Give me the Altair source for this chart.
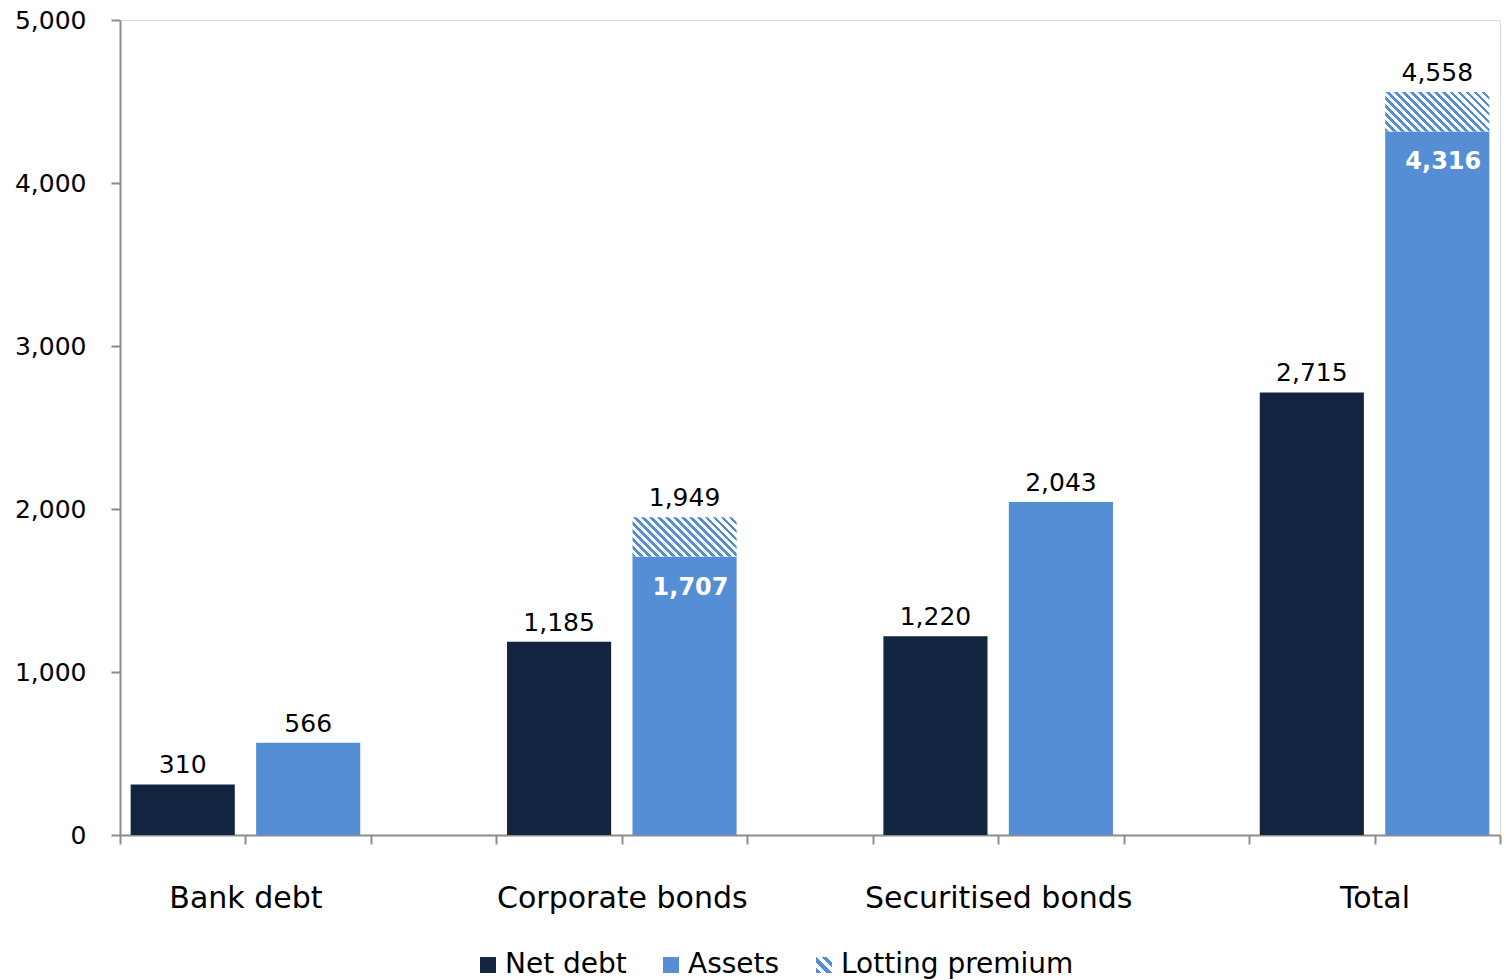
import altair as alt
import pandas as pd

# ---- data ----
categories = ["Bank debt", "Corporate bonds", "Securitised  bonds", "Total"]
net_debt = [310, 1185, 1220, 2715]
assets = [566, 1707, 2043, 4316]
lotting_premium = [0, 242, 0, 242]
series_names = ["Net debt", "Assets", "Lotting premium"]
y_ticks = [0, 1000, 2000, 3000, 4000, 5000]

NAVY = "#12243f"
BLUE = "#558ed5"
WHITE = "#ffffff"
AXIS_GREY = "#8c8c8c"
FONT = "DejaVu Sans"

PLOT_W, PLOT_H = 1380, 815
N_SLOTS = 11
PAD = 0.085  # gap inside each slot

# ---- tables built from the arrays ----
bars, hatch, above, inside = [], [], [], []
for i, cat in enumerate(categories):
    s_net, s_ast = 3 * i, 3 * i + 1
    bars.append(dict(series="Net debt", x0=s_net + PAD, x1=s_net + 1 - PAD, y0=0, y1=net_debt[i]))
    bars.append(dict(series="Assets", x0=s_ast + PAD, x1=s_ast + 1 - PAD, y0=0, y1=assets[i]))
    above.append(dict(xc=s_net + 0.5, y=net_debt[i], label=f"{net_debt[i]:,}"))
    if lotting_premium[i] > 0:
        top = assets[i] + lotting_premium[i]
        hatch.append(dict(x0=s_ast + PAD, x1=s_ast + 1 - PAD, y0=assets[i], y1=top))
        above.append(dict(xc=s_ast + 0.5, y=top, label=f"{top:,}"))
        inside.append(dict(xc=s_ast + 0.5, y=assets[i], label=f"{assets[i]:,}"))
    else:
        above.append(dict(xc=s_ast + 0.5, y=assets[i], label=f"{assets[i]:,}"))

bars_df = pd.DataFrame(bars)
hatch_df = pd.DataFrame(hatch)
above_df = pd.DataFrame(above)
inside_df = pd.DataFrame(inside)

# ---- diagonal hatch as a hard-stop linear gradient (45 degree stripes) ----
W = PLOT_W / N_SLOTS * (1 - 2 * PAD)
H = PLOT_H / 5000 * 242
s = (W + H) / (W * W + H * H)
n_stripes = 18
stops = []
for k in range(n_stripes):
    a, m, b = k / n_stripes, (k + 0.45) / n_stripes, (k + 1) / n_stripes
    stops += [
        {"offset": a, "color": BLUE},
        {"offset": m, "color": BLUE},
        {"offset": m, "color": WHITE},
        {"offset": b, "color": WHITE},
    ]
hatch_gradient = alt.LinearGradient(
    gradient="linear", x1=0, y1=1, x2=s * W, y2=1 - s * H, stops=stops
)

# small swatch gradient for the legend
sw_stops = []
n_sw = 3
for k in range(n_sw):
    a, m, b = k / n_sw, (k + 0.5) / n_sw, (k + 1) / n_sw
    sw_stops += [f"{{offset:{a},color:'{BLUE}'}}", f"{{offset:{m},color:'{BLUE}'}}",
                 f"{{offset:{m},color:'{WHITE}'}}", f"{{offset:{b},color:'{WHITE}'}}"]
sw_expr = "{gradient:'linear',x1:0,y1:1,x2:1,y2:0,stops:[" + ",".join(sw_stops) + "]}"

label_expr = " : ".join(
    [f"datum.value == {3 * i + 1} ? '{c}'" for i, c in enumerate(categories)]
) + " : ''"

x_scale = alt.Scale(domain=[0, N_SLOTS], nice=False, zero=False)
y_scale = alt.Scale(domain=[0, 5000], nice=False)

x_axis = alt.Axis(
    values=list(range(N_SLOTS + 1)), labelExpr=label_expr, grid=False, title=None,
    tickSize=9, tickColor=AXIS_GREY, tickWidth=2, domainColor=AXIS_GREY, domainWidth=2,
    labelFont=FONT, labelFontSize=30, labelColor="#000000", labelPadding=39,
    labelAngle=0, labelFlush=False, labelOverlap=False, labelLimit=0,
)
y_axis = alt.Axis(
    values=y_ticks, format=",d", grid=False, title=None,
    tickSize=9, tickColor=AXIS_GREY, tickWidth=2, domainColor=AXIS_GREY, domainWidth=2,
    labelFont=FONT, labelFontSize=25, labelColor="#000000", labelPadding=25,
)

color_scale = alt.Scale(domain=series_names, range=[NAVY, BLUE, alt.ExprRef(sw_expr)])

bar_layer = alt.Chart(bars_df).mark_rect().encode(
    x=alt.X("x0:Q", scale=x_scale, axis=x_axis),
    x2="x1",
    y=alt.Y("y0:Q", scale=y_scale, axis=y_axis),
    y2="y1",
    color=alt.Color(
        "series:N", scale=color_scale,
        legend=alt.Legend(
            title=None, orient="none", direction="horizontal", legendX=354, legendY=931,
            symbolType="square", symbolSize=256, symbolStrokeWidth=0,
            labelFont=FONT, labelFontSize=28, labelColor="#000000", labelLimit=0,
            labelOffset=3, columnPadding=30, symbolOpacity=1,
        ),
    ),
)

hatch_layer = alt.Chart(hatch_df).mark_rect(fill=hatch_gradient).encode(
    x=alt.X("x0:Q", scale=x_scale, axis=x_axis), x2="x1",
    y=alt.Y("y0:Q", scale=y_scale, axis=y_axis), y2="y1",
)

above_layer = alt.Chart(above_df).mark_text(
    baseline="bottom", dy=-6, font=FONT, fontSize=25, color="#000000"
).encode(
    x=alt.X("xc:Q", scale=x_scale, axis=x_axis),
    y=alt.Y("y:Q", scale=y_scale, axis=y_axis),
    text="label:N",
)

inside_layer = alt.Chart(inside_df).mark_text(
    baseline="middle", dy=31, dx=6, font=FONT, fontSize=24, fontWeight="bold", color=WHITE
).encode(
    x=alt.X("xc:Q", scale=x_scale, axis=x_axis),
    y=alt.Y("y:Q", scale=y_scale, axis=y_axis),
    text="label:N",
)

chart = alt.layer(bar_layer, hatch_layer, above_layer, inside_layer).properties(
    width=PLOT_W, height=PLOT_H,
    autosize=alt.AutoSizeParams(type="none"),
    padding={"left": 120, "top": 20, "right": 6, "bottom": 145},
).configure_view(stroke=None).configure(background="#ffffff")

chart.save("out.html", embed_options={"renderer": "svg", "actions": False})
